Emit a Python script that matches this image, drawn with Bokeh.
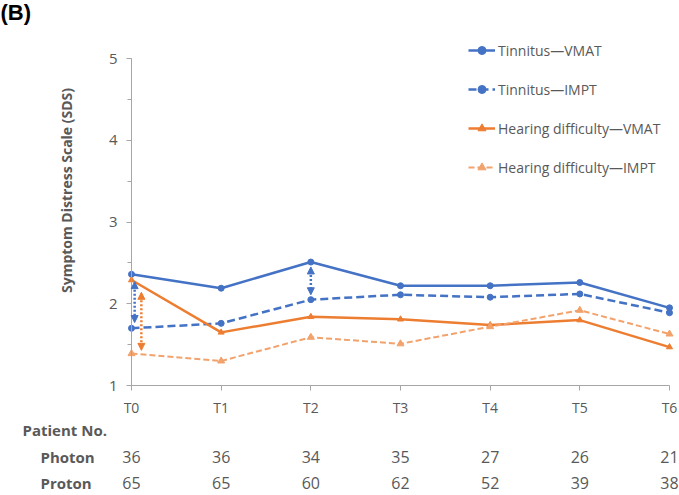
import math
from bokeh.plotting import figure
from bokeh.models import (Range1d, FixedTicker, SingleIntervalTicker, Label, Legend,
                          LegendItem, Arrow, NormalHead, LinearAxis, ColumnDataSource)
from bokeh.core.properties import value
from bokeh.embed import file_html
from bokeh.resources import INLINE

# ---- data ----
timepoints = ["T0", "T1", "T2", "T3", "T4", "T5", "T6"]
tinnitus_vmat = [2.36, 2.19, 2.51, 2.22, 2.22, 2.26, 1.95]
tinnitus_impt = [1.70, 1.76, 2.05, 2.11, 2.08, 2.12, 1.89]
hearing_vmat = [2.29, 1.65, 1.84, 1.81, 1.74, 1.80, 1.47]
hearing_impt = [1.39, 1.30, 1.59, 1.51, 1.72, 1.92, 1.63]
photon_n = [36, 36, 34, 35, 27, 26, 21]
proton_n = [65, 65, 60, 62, 52, 39, 38]

BLUE = "#4472C4"
ORANGE = "#ED7D31"
LORANGE = "#F2A26C"
GREY = "#595959"
AX = "#A6A6A6"
FONT = "Open Sans"

W, H = 679, 495
# pixel layout of the chart area inside the canvas
PX_LEFT, PX_RIGHT, PX_TOP, PX_BOTTOM = 131, 669, 58, 385
Y_LO, Y_HI = 1, 5
xs = list(range(len(timepoints)))
X_LO, X_HI = xs[0], xs[-1]

sx = (PX_RIGHT - PX_LEFT) / (X_HI - X_LO)
sy = (PX_BOTTOM - PX_TOP) / (Y_HI - Y_LO)
xr = Range1d(X_LO - PX_LEFT / sx, X_HI + (W - PX_RIGHT) / sx)
yr = Range1d(Y_LO - (H - PX_BOTTOM) / sy, Y_HI + PX_TOP / sy)

def px2x(px):
    return X_LO + (px - PX_LEFT) / sx

def px2y(py):
    return Y_LO + (PX_BOTTOM - py) / sy

p = figure(width=W, height=H, output_backend="svg", toolbar_location=None,
           x_range=xr, y_range=yr, x_axis_type=None, y_axis_type=None)
p.min_border = 0
p.min_border_left = 0
p.min_border_right = 0
p.min_border_top = 0
p.min_border_bottom = 0
p.outline_line_color = None
p.xgrid.visible = False
p.ygrid.visible = False
p.background_fill_color = "white"
p.border_fill_color = "white"

# axes, fixed at the chart's corner
xa = LinearAxis(fixed_location=Y_LO, bounds=(X_LO, X_HI))
xa.ticker = FixedTicker(ticks=xs)
xa.major_label_overrides = {i: t for i, t in zip(xs, timepoints)}
xa.axis_line_color = AX
xa.major_tick_line_color = AX
xa.major_tick_out = 5
xa.major_tick_in = 0
xa.minor_tick_line_color = None
xa.major_label_text_font = FONT
xa.major_label_text_font_size = "14px"
xa.major_label_text_color = GREY
xa.major_label_standoff = 7
p.add_layout(xa, "below")

ya = LinearAxis(fixed_location=X_LO, bounds=(Y_LO, Y_HI))
ya.ticker = SingleIntervalTicker(interval=1, num_minor_ticks=2)
ya.axis_line_color = AX
ya.major_tick_line_color = AX
ya.minor_tick_line_color = AX
ya.major_tick_out = 5
ya.major_tick_in = 0
ya.minor_tick_out = 4
ya.minor_tick_in = 0
ya.major_label_text_font = FONT
ya.major_label_text_font_size = "15px"
ya.major_label_text_color = GREY
ya.major_label_standoff = 9
p.add_layout(ya, "left")

# series
l1 = p.line(xs, tinnitus_vmat, line_color=BLUE, line_width=2.5)
s1 = p.scatter(xs, tinnitus_vmat, marker="circle", size=6, color=BLUE)
l2 = p.line(xs, tinnitus_impt, line_color=BLUE, line_width=2.5, line_dash="8 4")
s2 = p.scatter(xs, tinnitus_impt, marker="circle", size=6, color=BLUE)
l3 = p.line(xs, hearing_vmat, line_color=ORANGE, line_width=2.5)
s3 = p.scatter(xs, hearing_vmat, marker="triangle", size=6, color=ORANGE)
l4 = p.line(xs, hearing_impt, line_color=LORANGE, line_width=2, line_dash="6 3")
s4 = p.scatter(xs, hearing_impt, marker="triangle", size=7, color=LORANGE)

# dotted double arrows showing differences
def darrow(x, y_top, y_bot, color):
    p.add_layout(Arrow(x_start=x, y_start=y_top, x_end=x, y_end=y_bot,
                       line_color=color, line_width=2.5, line_dash="2 2",
                       start=NormalHead(size=7, fill_color=color, line_color=color),
                       end=NormalHead(size=7, fill_color=color, line_color=color)))

darrow(xs[0] + 0.035, tinnitus_vmat[0] - 0.09, tinnitus_impt[0] + 0.07, BLUE)
darrow(xs[0] + 0.11, hearing_vmat[0] - 0.15, hearing_impt[0] + 0.04, ORANGE)
darrow(xs[2], tinnitus_vmat[2] - 0.06, tinnitus_impt[2] + 0.06, BLUE)

# legend (location = bottom-left corner in pixels from canvas bottom-left)
legend = Legend(items=[
    LegendItem(label="Tinnitus\u2014VMAT", renderers=[l1, s1]),
    LegendItem(label="Tinnitus\u2014IMPT", renderers=[l2, s2]),
    LegendItem(label="Hearing difficulty\u2014VMAT", renderers=[l3, s3]),
    LegendItem(label="Hearing difficulty\u2014IMPT", renderers=[l4, s4]),
], location=(468, H - 177))
legend.glyph_width = 27
legend.glyph_height = 20
legend.label_height = 20
legend.spacing = 19
legend.padding = 0
legend.margin = 0
legend.label_standoff = 3
legend.border_line_color = None
legend.background_fill_alpha = 0
legend.label_text_font = FONT
legend.label_text_font_size = "14px"
legend.label_text_color = GREY
p.add_layout(legend)

# y axis title
p.add_layout(Label(x=px2x(66), y=px2y(190), text="Symptom Distress Scale (SDS)", angle=math.pi / 2,
                   text_align="center", text_baseline="middle", text_font=FONT,
                   text_font_size="14px", text_font_style="bold", text_color=GREY))

# panel letter
p.add_layout(Label(x=px2x(0), y=px2y(12), text="(B)", text_align="left", text_baseline="middle",
                   text_font="Liberation Sans", text_font_size="22px",
                   text_font_style="bold", text_color="black"))

# patient table
Y_HDR, Y_PH, Y_PR = px2y(429), px2y(456), px2y(482)
p.add_layout(Label(x=px2x(22), y=Y_HDR, text="Patient No.", text_align="left", text_baseline="middle",
                   text_font=FONT, text_font_size="15px", text_font_style="bold", text_color=GREY))
p.add_layout(Label(x=px2x(40), y=Y_PH, text="Photon", text_align="left", text_baseline="middle",
                   text_font=FONT, text_font_size="15px", text_font_style="bold", text_color=GREY))
p.add_layout(Label(x=px2x(40), y=Y_PR, text="Proton", text_align="left", text_baseline="middle",
                   text_font=FONT, text_font_size="15px", text_font_style="bold", text_color=GREY))

tbl = ColumnDataSource(dict(x=xs + xs,
                            y=[Y_PH] * len(xs) + [Y_PR] * len(xs),
                            t=[str(v) for v in photon_n] + [str(v) for v in proton_n]))
p.text(x="x", y="y", text="t", source=tbl, text_align="center", text_baseline="middle",
       text_font=value(FONT), text_font_size="16px", text_color=GREY)

open("out.html", "w").write(file_html(p, INLINE))
